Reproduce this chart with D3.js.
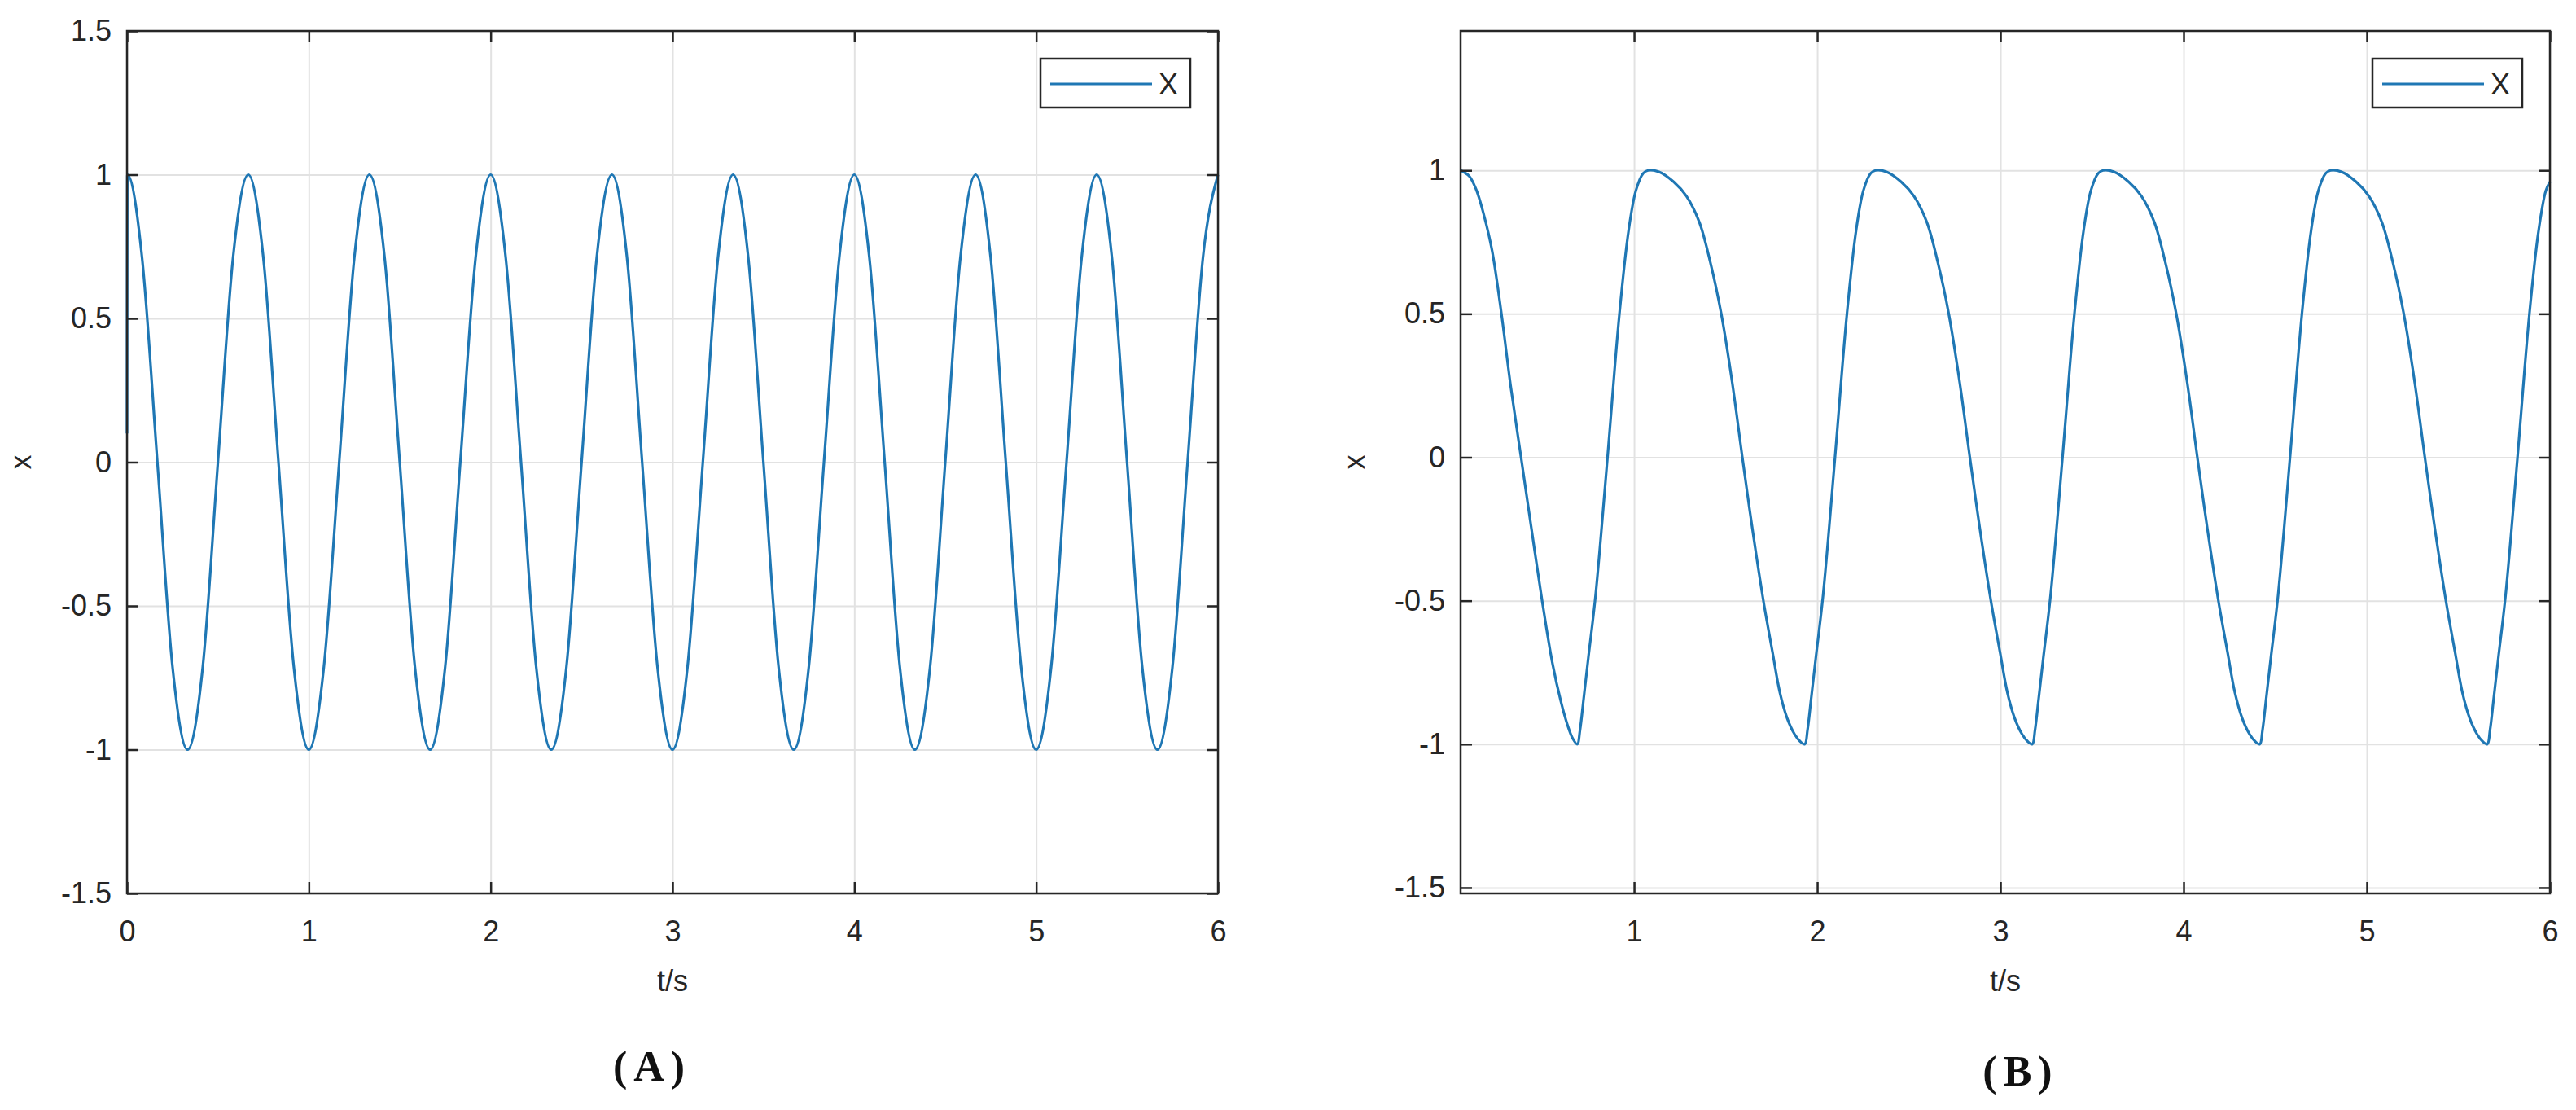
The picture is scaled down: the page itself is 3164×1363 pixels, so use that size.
<!DOCTYPE html>
<html>
<head>
<meta charset="utf-8">
<script src="https://cdn.jsdelivr.net/npm/d3@7/dist/d3.min.js"></script>
<style>
    body { margin: 0; background: #fff; }
    svg { display: block; }
    text { font-family: "Liberation Sans", Arial, sans-serif; fill: #262626; }
</style>
</head>
<body>
<div id="chart"></div>
<script>
// (A) t/s and x
const timeA = [0, 0.002,
    0.083, 0.167, 0.25, 0.333, 0.417, 0.5, 0.583, 0.667,
    0.75, 0.833, 0.917, 1, 1.083, 1.167, 1.25, 1.333,
    1.417, 1.5, 1.583, 1.667, 1.75, 1.833, 1.917, 2,
    2.083, 2.167, 2.25, 2.333, 2.417, 2.5, 2.583, 2.667,
    2.75, 2.833, 2.917, 3, 3.083, 3.167, 3.25, 3.333,
    3.417, 3.5, 3.583, 3.667, 3.75, 3.833, 3.917, 4,
    4.083, 4.167, 4.25, 4.333, 4.417, 4.5, 4.583, 4.667,
    4.75, 4.833, 4.917, 5, 5.083, 5.167, 5.25, 5.333,
    5.417, 5.5, 5.583, 5.667, 5.75, 5.833, 5.917, 6];
const valueA = [0.1, 1,
    0.71, 0, -0.71, -1, -0.71, 0, 0.71, 1,
    0.71, 0, -0.71, -1, -0.71, 0, 0.71, 1,
    0.71, 0, -0.71, -1, -0.71, 0, 0.71, 1,
    0.71, 0, -0.71, -1, -0.71, 0, 0.71, 1,
    0.71, 0, -0.71, -1, -0.71, 0, 0.71, 1,
    0.71, 0, -0.71, -1, -0.71, 0, 0.71, 1,
    0.71, 0, -0.71, -1, -0.71, 0, 0.71, 1,
    0.71, 0, -0.71, -1, -0.71, 0, 0.71, 1,
    0.71, 0, -0.71, -1, -0.71, 0, 0.71, 1];

// (B) t/s and x
const timeB = [0.053, 0.10, 0.14, 0.182, 0.225, 0.276, 0.326, 0.383, 0.44, 0.498, 0.555, 0.60, 0.635, 0.665, 0.69,
    0.705, 0.725, 0.75, 0.79, 0.855, 0.92, 0.97, 1.01, 1.05, 1.076,
    1.136, 1.216, 1.286, 1.356, 1.416, 1.476, 1.536, 1.591, 1.646, 1.706, 1.756, 1.796, 1.836, 1.876, 1.906, 1.932,
    1.947, 1.967, 1.992, 2.032, 2.097, 2.162, 2.212, 2.252, 2.292, 2.318,
    2.378, 2.458, 2.528, 2.598, 2.658, 2.718, 2.778, 2.833, 2.888, 2.948, 2.998, 3.038, 3.078, 3.118, 3.148, 3.174,
    3.189, 3.209, 3.234, 3.274, 3.339, 3.404, 3.454, 3.494, 3.534, 3.56,
    3.62, 3.70, 3.77, 3.84, 3.90, 3.96, 4.02, 4.075, 4.13, 4.19, 4.24, 4.28, 4.32, 4.36, 4.39, 4.416,
    4.431, 4.451, 4.476, 4.516, 4.581, 4.646, 4.696, 4.736, 4.776, 4.802,
    4.862, 4.942, 5.012, 5.082, 5.142, 5.202, 5.262, 5.317, 5.372, 5.432, 5.482, 5.522, 5.562, 5.602, 5.632, 5.658,
    5.673, 5.693, 5.718, 5.758, 5.823, 5.888, 5.938, 5.978, 6.0];
const valueB = [1.00, 0.98, 0.93, 0.84, 0.72, 0.50, 0.25, 0.00, -0.25, -0.50, -0.72, -0.85, -0.93, -0.98, -1.00,
    -0.95, -0.84, -0.70, -0.48, 0.00, 0.50, 0.79, 0.93, 0.99, 1.00,
    0.995, 0.96, 0.91, 0.82, 0.68, 0.50, 0.26, 0.00, -0.25, -0.50, -0.68, -0.82, -0.91, -0.965, -0.99, -1.00,
    -0.95, -0.84, -0.70, -0.48, 0.00, 0.50, 0.79, 0.93, 0.99, 1.00,
    0.995, 0.96, 0.91, 0.82, 0.68, 0.50, 0.26, 0.00, -0.25, -0.50, -0.68, -0.82, -0.91, -0.965, -0.99, -1.00,
    -0.95, -0.84, -0.70, -0.48, 0.00, 0.50, 0.79, 0.93, 0.99, 1.00,
    0.995, 0.96, 0.91, 0.82, 0.68, 0.50, 0.26, 0.00, -0.25, -0.50, -0.68, -0.82, -0.91, -0.965, -0.99, -1.00,
    -0.95, -0.84, -0.70, -0.48, 0.00, 0.50, 0.79, 0.93, 0.99, 1.00,
    0.995, 0.96, 0.91, 0.82, 0.68, 0.50, 0.26, 0.00, -0.25, -0.50, -0.68, -0.82, -0.91, -0.965, -0.99, -1.00,
    -0.95, -0.84, -0.70, -0.48, 0.00, 0.50, 0.79, 0.93, 0.96];

const xTicksA = [0, 1, 2, 3, 4, 5, 6];
const yTicksA = [-1.5, -1, -0.5, 0, 0.5, 1, 1.5];
const xTicksB = [1, 2, 3, 4, 5, 6];
const yTicksB = [-1.5, -1, -0.5, 0, 0.5, 1];

const seriesName = 'X';
const xLabel = 't/s';
const yLabel = 'x';

const width = 3164, height = 1363;
const blue = '#1f77b4';
const ink = '#262626';
const tickLen = 14;

const svg = d3.select('#chart').append('svg')
    .attr('width', width)
    .attr('height', height);

svg.append('rect').attr('width', width).attr('height', height).attr('fill', '#fff');

drawPanel({
    left: 156, right: 1496, top: 38, bottom: 1097,
    xDomain: [0, 6], yDomain: [-1.5, 1.5],
    xTicks: xTicksA, yTicks: yTicksA,
    time: timeA, value: valueA,
    curve: d3.curveMonotoneX,
    caption: '(A)', capX: 797, capY: 1327
});

drawPanel({
    left: 1794, right: 3132, top: 38, bottom: 1097,
    xDomain: [0.053, 6], yDomain: [-1.52, 1.486],
    xTicks: xTicksB, yTicks: yTicksB,
    time: timeB, value: valueB,
    curve: d3.curveCatmullRom.alpha(0.5),
    caption: '(B)', capX: 2478, capY: 1333
});

function drawPanel(p) {
    const g = svg.append('g');
    const w = p.right - p.left;
    const h = p.bottom - p.top;

    const x = d3.scaleLinear().domain(p.xDomain).range([p.left, p.right]);
    const y = d3.scaleLinear().domain(p.yDomain).range([p.bottom, p.top]);

    // grid under the data
    const grid = g.append('g');
    grid.append('g')
        .attr('transform', `translate(0,${p.bottom})`)
        .call(d3.axisBottom(x).tickValues(p.xTicks).tickSize(-h).tickFormat(''));
    grid.append('g')
        .attr('transform', `translate(${p.left},0)`)
        .call(d3.axisLeft(y).tickValues(p.yTicks).tickSize(-w).tickFormat(''));
    grid.selectAll('.domain').remove();
    grid.selectAll('line').attr('stroke', '#e2e2e2').attr('stroke-width', 2);

    const line = d3.line()
        .x(d => x(d[0]))
        .y(d => y(d[1]))
        .curve(p.curve);

    g.append('path')
        .datum(d3.zip(p.time, p.value))
        .attr('fill', 'none')
        .attr('stroke', blue)
        .attr('stroke-width', 3.2)
        .attr('stroke-linejoin', 'round')
        .attr('d', line);

    // box with inward ticks on all four sides
    const axes = g.append('g');
    axes.append('g')
        .attr('transform', `translate(0,${p.bottom})`)
        .call(d3.axisBottom(x).tickValues(p.xTicks).tickSize(-tickLen).tickPadding(33).tickFormat(d => String(d)));
    axes.append('g')
        .attr('transform', `translate(0,${p.top})`)
        .call(d3.axisTop(x).tickValues(p.xTicks).tickSize(-tickLen).tickFormat(''));
    axes.append('g')
        .attr('transform', `translate(${p.left},0)`)
        .call(d3.axisLeft(y).tickValues(p.yTicks).tickSize(-tickLen).tickPadding(19).tickFormat(d => String(d)));
    axes.append('g')
        .attr('transform', `translate(${p.right},0)`)
        .call(d3.axisRight(y).tickValues(p.yTicks).tickSize(-tickLen).tickFormat(''));
    axes.selectAll('.domain').remove();
    axes.selectAll('line').attr('stroke', ink).attr('stroke-width', 2.5);
    axes.selectAll('text')
        .attr('font-size', 36)
        .attr('font-family', '"Liberation Sans", Arial, sans-serif')
        .attr('fill', ink);

    g.append('rect')
        .attr('x', p.left).attr('y', p.top)
        .attr('width', w).attr('height', h)
        .attr('fill', 'none')
        .attr('stroke', ink)
        .attr('stroke-width', 2.5);

    // legend
    const lg = g.append('g')
        .attr('transform', `translate(${p.right - 34 - 184},${p.top + 34})`);
    lg.append('rect')
        .attr('width', 184).attr('height', 60)
        .attr('fill', '#fff')
        .attr('stroke', ink)
        .attr('stroke-width', 2.5);
    lg.append('line')
        .attr('x1', 12).attr('x2', 137)
        .attr('y1', 31).attr('y2', 31)
        .attr('stroke', blue)
        .attr('stroke-width', 3.2);
    lg.append('text')
        .attr('x', 145).attr('y', 31)
        .attr('dy', '0.36em')
        .attr('font-size', 36)
        .text(seriesName);

    // axis labels
    g.append('text')
        .attr('x', (p.left + p.right) / 2).attr('y', 1217)
        .attr('text-anchor', 'middle')
        .attr('font-size', 36)
        .text(xLabel);

    g.append('text')
        .attr('transform', `translate(${p.left - 118},${(p.top + p.bottom) / 2}) rotate(-90)`)
        .attr('text-anchor', 'middle')
        .attr('font-size', 36)
        .text(yLabel);

    g.append('text')
        .attr('x', p.capX + 4).attr('y', p.capY)
        .attr('text-anchor', 'middle')
        .attr('font-weight', 'bold')
        .attr('font-size', 52)
        .attr('letter-spacing', 8)
        .style('fill', '#111')
        .style('font-family', '"Liberation Serif", "Times New Roman", serif')
        .text(p.caption);
}
</script>
</body>
</html>
